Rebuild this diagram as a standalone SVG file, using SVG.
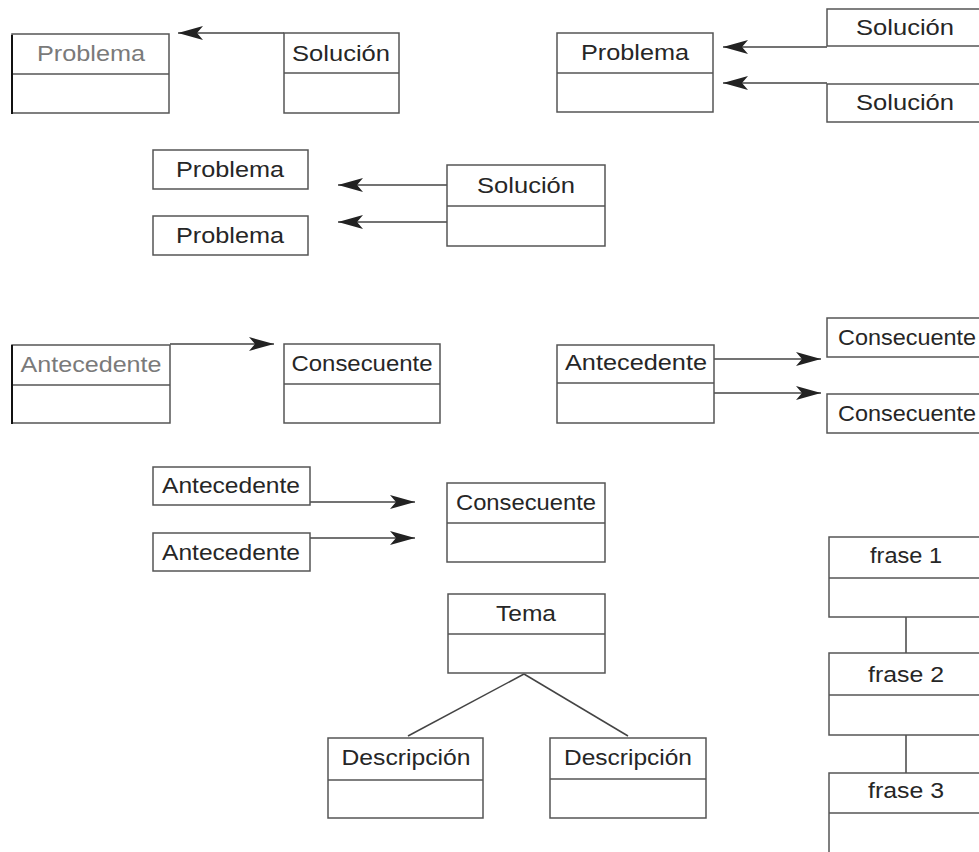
<svg xmlns="http://www.w3.org/2000/svg" width="979" height="852" viewBox="0 0 979 852">
  <defs>
    <style>
      .box { fill: #ffffff; stroke: #555555; stroke-width: 1.5; }
      .div { stroke: #555555; stroke-width: 1.5; }
      .edge { stroke: #111111; stroke-width: 2; }
      .lbl { font-family: "Liberation Sans", Arial, Helvetica, sans-serif; font-size: 22px; fill: #262626; text-anchor: middle; }
      .faint { fill: #7a7a7a; }
      .link { stroke: #444444; stroke-width: 1.5; fill: none; }
      .arrow { marker-end: url(#barb); }
    </style>
    <marker id="barb" viewBox="-27 -8 28 16" markerWidth="28" markerHeight="16" refX="0" refY="0" markerUnits="userSpaceOnUse" orient="auto">
      <path d="M0,0 L-25,-7 L-19,0 L-25,7 Z" fill="#222222"/>
    </marker>
  </defs>
  <rect width="979" height="852" fill="#ffffff"/>

  <!-- connectors -->
  <g id="connectors">
    <line class="link arrow" x1="284" y1="33" x2="178" y2="33"/>
    <line class="link arrow" x1="827" y1="47" x2="723" y2="47"/>
    <line class="link arrow" x1="827" y1="83" x2="723" y2="83"/>
    <line class="link arrow" x1="447" y1="185" x2="338" y2="185"/>
    <line class="link arrow" x1="447" y1="222" x2="338" y2="222"/>
    <line class="link arrow" x1="170" y1="344" x2="274" y2="344"/>
    <line class="link arrow" x1="714" y1="359" x2="821" y2="359"/>
    <line class="link arrow" x1="714" y1="393" x2="821" y2="393"/>
    <line class="link arrow" x1="310" y1="502" x2="415" y2="502"/>
    <line class="link arrow" x1="310" y1="538" x2="415" y2="538"/>
    <line class="link" x1="524" y1="674" x2="408" y2="736"/>
    <line class="link" x1="524" y1="674" x2="628" y2="736"/>
    <line class="link" x1="906" y1="617" x2="906" y2="653"/>
    <line class="link" x1="906" y1="735" x2="906" y2="773"/>
  </g>

  <!-- problem / solution, one to one -->
  <g id="problema-1">
    <rect class="box" x="12" y="34" width="157" height="79"/>
    <line class="div" x1="12" y1="74" x2="169" y2="74"/>
    <line class="edge" x1="12" y1="35" x2="12" y2="114"/>
    <text class="lbl faint" x="91" y="61" textLength="108" lengthAdjust="spacingAndGlyphs">Problema</text>
  </g>
  <g id="solucion-1">
    <rect class="box" x="284" y="33" width="115" height="80"/>
    <line class="div" x1="284" y1="73" x2="399" y2="73"/>
    <text class="lbl" x="341" y="61" textLength="98" lengthAdjust="spacingAndGlyphs">Solución</text>
  </g>

  <!-- problem with two solutions -->
  <g id="problema-2">
    <rect class="box" x="557" y="33" width="156" height="79"/>
    <line class="div" x1="557" y1="73" x2="713" y2="73"/>
    <text class="lbl" x="635" y="60" textLength="108" lengthAdjust="spacingAndGlyphs">Problema</text>
  </g>
  <g id="solucion-2a">
    <rect class="box" x="827" y="9" width="157" height="37"/>
    <text class="lbl" x="905" y="35" textLength="98" lengthAdjust="spacingAndGlyphs">Solución</text>
  </g>
  <g id="solucion-2b">
    <rect class="box" x="827" y="84" width="157" height="38"/>
    <text class="lbl" x="905" y="110" textLength="98" lengthAdjust="spacingAndGlyphs">Solución</text>
  </g>

  <!-- one solution for two problems -->
  <g id="problema-3a">
    <rect class="box" x="153" y="150" width="155" height="39"/>
    <text class="lbl" x="230" y="177" textLength="108" lengthAdjust="spacingAndGlyphs">Problema</text>
  </g>
  <g id="problema-3b">
    <rect class="box" x="153" y="216" width="155" height="39"/>
    <text class="lbl" x="230" y="243" textLength="108" lengthAdjust="spacingAndGlyphs">Problema</text>
  </g>
  <g id="solucion-3">
    <rect class="box" x="447" y="165" width="158" height="81"/>
    <line class="div" x1="447" y1="206" x2="605" y2="206"/>
    <text class="lbl" x="526" y="193" textLength="98" lengthAdjust="spacingAndGlyphs">Solución</text>
  </g>

  <!-- antecedent / consequent, one to one -->
  <g id="antecedente-1">
    <rect class="box" x="12" y="345" width="158" height="78"/>
    <line class="div" x1="12" y1="385" x2="170" y2="385"/>
    <line class="edge" x1="12" y1="345" x2="12" y2="424"/>
    <text class="lbl faint" x="91" y="372" textLength="141" lengthAdjust="spacingAndGlyphs">Antecedente</text>
  </g>
  <g id="consecuente-1">
    <rect class="box" x="284" y="344" width="156" height="79"/>
    <line class="div" x1="284" y1="384" x2="440" y2="384"/>
    <text class="lbl" x="362" y="371" textLength="141" lengthAdjust="spacingAndGlyphs">Consecuente</text>
  </g>

  <!-- antecedent with two consequents -->
  <g id="antecedente-2">
    <rect class="box" x="557" y="345" width="157" height="78"/>
    <line class="div" x1="557" y1="383" x2="714" y2="383"/>
    <text class="lbl" x="636" y="370" textLength="142" lengthAdjust="spacingAndGlyphs">Antecedente</text>
  </g>
  <g id="consecuente-2a">
    <rect class="box" x="827" y="318" width="157" height="39"/>
    <text class="lbl" x="907" y="345" textLength="138" lengthAdjust="spacingAndGlyphs">Consecuente</text>
  </g>
  <g id="consecuente-2b">
    <rect class="box" x="827" y="394" width="157" height="39"/>
    <text class="lbl" x="907" y="421" textLength="138" lengthAdjust="spacingAndGlyphs">Consecuente</text>
  </g>

  <!-- two antecedents, one consequent -->
  <g id="antecedente-3a">
    <rect class="box" x="153" y="467" width="157" height="38"/>
    <text class="lbl" x="231" y="493" textLength="138" lengthAdjust="spacingAndGlyphs">Antecedente</text>
  </g>
  <g id="antecedente-3b">
    <rect class="box" x="153" y="533" width="157" height="38"/>
    <text class="lbl" x="231" y="560" textLength="138" lengthAdjust="spacingAndGlyphs">Antecedente</text>
  </g>
  <g id="consecuente-3">
    <rect class="box" x="447" y="483" width="158" height="79"/>
    <line class="div" x1="447" y1="523" x2="605" y2="523"/>
    <text class="lbl" x="526" y="510" textLength="140" lengthAdjust="spacingAndGlyphs">Consecuente</text>
  </g>

  <!-- topic with descriptions -->
  <g id="tema">
    <rect class="box" x="448" y="594" width="157" height="79"/>
    <line class="div" x1="448" y1="634" x2="605" y2="634"/>
    <text class="lbl" x="526" y="621" textLength="60" lengthAdjust="spacingAndGlyphs">Tema</text>
  </g>
  <g id="descripcion-1">
    <rect class="box" x="328" y="738" width="155" height="80"/>
    <line class="div" x1="328" y1="780" x2="483" y2="780"/>
    <text class="lbl" x="406" y="765" textLength="129" lengthAdjust="spacingAndGlyphs">Descripción</text>
  </g>
  <g id="descripcion-2">
    <rect class="box" x="550" y="738" width="156" height="80"/>
    <line class="div" x1="550" y1="779" x2="706" y2="779"/>
    <text class="lbl" x="628" y="765" textLength="128" lengthAdjust="spacingAndGlyphs">Descripción</text>
  </g>

  <!-- sentence sequence -->
  <g id="frase-1">
    <rect class="box" x="829" y="537" width="157" height="80"/>
    <line class="div" x1="829" y1="578" x2="986" y2="578"/>
    <text class="lbl" x="906" y="563" textLength="72" lengthAdjust="spacingAndGlyphs">frase 1</text>
  </g>
  <g id="frase-2">
    <rect class="box" x="829" y="653" width="157" height="82"/>
    <line class="div" x1="829" y1="695" x2="986" y2="695"/>
    <text class="lbl" x="906" y="682" textLength="76" lengthAdjust="spacingAndGlyphs">frase 2</text>
  </g>
  <g id="frase-3">
    <rect class="box" x="829" y="773" width="157" height="85"/>
    <line class="div" x1="829" y1="813" x2="986" y2="813"/>
    <text class="lbl" x="906" y="798" textLength="76" lengthAdjust="spacingAndGlyphs">frase 3</text>
  </g>
</svg>
